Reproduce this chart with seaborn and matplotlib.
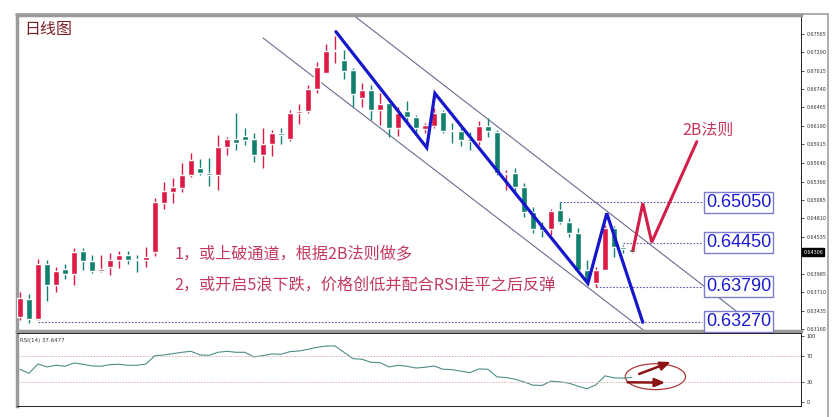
import numpy as np
import pandas as pd
import matplotlib
matplotlib.use("Agg")
import matplotlib.pyplot as plt
import seaborn as sns
from matplotlib.patches import Ellipse
from matplotlib.lines import Line2D

# daily candles
opens = [0.63340, 0.63608, 0.63310, 0.64130, 0.63817, 0.64056, 0.63981, 0.64324, 0.64175, 0.64026,
         0.64085, 0.64190, 0.64264, 0.64205, 0.64190, 0.64309, 0.65040, 0.65204, 0.65263, 0.65457,
         0.65561, 0.65487, 0.65457, 0.65874, 0.65994, 0.66039, 0.65994, 0.65755, 0.65919, 0.66083,
         0.65994, 0.66382, 0.66411, 0.66739, 0.66978, 0.67306, 0.67172, 0.67023, 0.66605, 0.66724,
         0.66426, 0.66531, 0.66158, 0.66411, 0.66322, 0.66143, 0.66188, 0.66396, 0.66128, 0.66113,
         0.65994, 0.65964, 0.66188, 0.66098, 0.65472, 0.65487, 0.65278, 0.64905, 0.64697, 0.64652,
         0.64935, 0.64756, 0.64592, 0.64041, 0.63847, 0.64041, 0.64667, 0.64384, 0.64354]
highs = [0.63713, 0.63683, 0.64205, 0.64190, 0.64085, 0.64130, 0.64369, 0.64369, 0.64264, 0.64264,
         0.64294, 0.64324, 0.64324, 0.64264, 0.64384, 0.65114, 0.65353, 0.65412, 0.65636, 0.65785,
         0.65696, 0.65710, 0.66053, 0.66024, 0.66382, 0.66158, 0.66083, 0.66158, 0.66128, 0.66158,
         0.66426, 0.66516, 0.66799, 0.67142, 0.67410, 0.67530, 0.67321, 0.67052, 0.66829, 0.66799,
         0.66680, 0.66575, 0.66471, 0.66560, 0.66352, 0.66232, 0.66456, 0.66426, 0.66232, 0.66173,
         0.66098, 0.66262, 0.66307, 0.66128, 0.65532, 0.65561, 0.65338, 0.64980, 0.64756, 0.64950,
         0.65050, 0.64816, 0.64667, 0.64190, 0.64085, 0.64712, 0.64697, 0.64413, 0.64384]
lows = [0.63295, 0.63250, 0.63295, 0.63578, 0.63713, 0.63906, 0.63817, 0.64041, 0.63996, 0.64011,
        0.63966, 0.64070, 0.64130, 0.64011, 0.64085, 0.64249, 0.64950, 0.65040, 0.65204, 0.65427,
        0.65457, 0.65293, 0.65233, 0.65755, 0.65830, 0.65904, 0.65651, 0.65561, 0.65740, 0.65919,
        0.65964, 0.66218, 0.66382, 0.66680, 0.66978, 0.67127, 0.66888, 0.66471, 0.66471, 0.66277,
        0.66203, 0.66024, 0.66039, 0.66232, 0.66083, 0.66083, 0.66158, 0.66083, 0.65934, 0.65889,
        0.65830, 0.65904, 0.66024, 0.65457, 0.65233, 0.65204, 0.64831, 0.64592, 0.64533, 0.64562,
        0.64726, 0.64533, 0.64011, 0.63847, 0.63790, 0.64041, 0.64234, 0.64294, 0.64294]
closes = [0.63623, 0.63310, 0.64130, 0.63817, 0.64026, 0.63981, 0.64309, 0.64175, 0.64026, 0.64056,
          0.64190, 0.64264, 0.64190, 0.64190, 0.64234, 0.65055, 0.65219, 0.65278, 0.65457, 0.65681,
          0.65487, 0.65457, 0.65874, 0.65994, 0.65934, 0.65979, 0.65755, 0.65919, 0.66083, 0.66053,
          0.66382, 0.66411, 0.66739, 0.67067, 0.67306, 0.67321, 0.67008, 0.66665, 0.66724, 0.66426,
          0.66516, 0.66158, 0.66382, 0.66322, 0.66158, 0.66203, 0.66382, 0.66113, 0.66113, 0.65979,
          0.65964, 0.66188, 0.66113, 0.65487, 0.65487, 0.65278, 0.64905, 0.64652, 0.64637, 0.64920,
          0.64756, 0.64592, 0.64041, 0.63877, 0.64041, 0.64667, 0.64384, 0.64354, 0.64306]

rsi = [49.7, 43.7, 57.8, 53.3, 55.8, 54.3, 59.3, 57.3, 54.8, 54.3,
       56.8, 57.3, 55.8, 55.8, 57.8, 70.4, 71.4, 73.4, 75.4, 76.9,
       71.4, 70.9, 75.4, 76.9, 75.4, 75.4, 68.4, 70.4, 72.9, 72.4,
       76.4, 77.4, 79.9, 82.9, 84.9, 84.9, 75.4, 65.9, 64.9, 60.3,
       59.8, 53.3, 55.8, 54.3, 51.7, 52.8, 54.8, 49.8, 49.3, 46.9,
       44.8, 50.3, 49.8, 38.3, 37.4, 34.8, 30.8, 25.8, 25.4, 31.8,
       30.8, 28.9, 24.3, 20.3, 26.4, 39.9, 36.9, 36.4, 37.6]

price_ticks = [0.67565, 0.67290, 0.67015, 0.66740, 0.66465, 0.66190, 0.65915, 0.65640,
               0.65360, 0.65085, 0.64810, 0.64535, 0.63985, 0.63710, 0.63435, 0.63160]
last_price = 0.64306

# channel lines (bar index, price)
upper_x = [37.3, 81.3]
upper_y = [0.67813, 0.63250]
lower_x = [27.0, 69.4]
lower_y = [0.67500, 0.63131]

# wave paths
blue_x = [35.1, 45.2, 46.1, 63.1, 65.2, 69.2]
blue_y = [0.67594, 0.65864, 0.66675, 0.63842, 0.64886, 0.63261]
red_x = [68.1, 69.2, 70.2, 75.2]
red_y = [0.64328, 0.65035, 0.64454, 0.65954]

# target levels: value, start bar
levels = [0.65050, 0.64450, 0.63790, 0.63270]
level_start = [60.0, 67.0, 64.0, 2.0]
level_labels = ["0.65050", "0.64450", "0.63790", "0.63270"]

df = pd.DataFrame({"open": opens, "high": highs, "low": lows, "close": closes, "rsi": rsi})
df["idx"] = np.arange(len(df))

RED = "#dc1a44"
TEAL = "#12806f"
CJK = ["Noto Sans CJK SC", "DejaVu Sans"]

sns.set_style("white")
plt.rcParams["font.family"] = CJK

W, H = 838, 417
fig = plt.figure(figsize=(W / 100, H / 100), dpi=100)
ax = fig.add_axes([17 / W, (H - 331) / H, 784 / W, 316 / H])
ax2 = fig.add_axes([17 / W, (H - 406) / H, 784 / W, 73 / H])

up = df["close"] >= df["open"]
colors = np.where(up, RED, TEAL)
ax.vlines(df["idx"], df["low"], df["high"], colors=colors, lw=1.0, zorder=2)
body_lo = np.minimum(df["open"], df["close"])
body_h = np.maximum((df["close"] - df["open"]).abs(), 0.00006)
ax.bar(df["idx"], body_h, bottom=body_lo, width=0.68, color=colors, zorder=3)

# channel
ax.plot(upper_x, upper_y, color="#6b6b90", lw=0.8, zorder=1)
ax.plot(lower_x, lower_y, color="#6b6b90", lw=0.8, zorder=1)

# target levels
for lv, x0, lab in zip(levels, level_start, level_labels):
    ax.plot([x0, 75.8], [lv, lv], color="#5a5aa8", lw=0.8, ls=(0, (1.5, 1.5)), zorder=1)
    ax.text(76.2, lv, lab, fontsize=13, family="Liberation Sans", color="#1a1ad0",
            va="center", ha="left", zorder=6,
            bbox=dict(boxstyle="square,pad=0.12", fc="white", ec="#7c7cd0", lw=1.0))

ax.plot(blue_x, blue_y, color="#1616cc", lw=2.3, zorder=5, solid_joinstyle="miter")
ax.plot(red_x, red_y, color="#d21f4a", lw=2.2, zorder=5, solid_joinstyle="miter")

ax.text(17.2, 0.64279, "1，或上破通道，根据2B法则做多", fontsize=11.6, color="#c23a60",
        va="center", ha="left", family=CJK)
ax.text(17.2, 0.63817, "2，或开启5浪下跌，价格创低并配合RSI走平之后反弹", fontsize=11.6,
        color="#c23a60", va="center", ha="left", family=CJK)
ax.text(76.5, 0.66120, "2B法则", fontsize=11.5, color="#c8375f", va="center", ha="center",
        family=CJK)
ax.text(0.009, 0.955, "日线图", transform=ax.transAxes, fontsize=11.5, color="#7b1f24",
        va="center", ha="left", family=CJK)

ax.set_xlim(-0.333, 86.78)
ax.set_ylim(0.631311, 0.678426)
ax.yaxis.tick_right()
ax.set_yticks(price_ticks)
ax.set_yticklabels([f"{t:.5f}" for t in price_ticks])
ax.tick_params(axis="y", labelsize=4, length=2, width=0.6, pad=2, colors="#333333")
ax.set_xticks([])
ax.text(1.003, last_price, f"{last_price:.5f}", transform=ax.get_yaxis_transform(),
        fontsize=4, color="white", va="center", ha="left",
        bbox=dict(boxstyle="square,pad=0.25", fc="black", ec="black"))

# RSI panel
sns.lineplot(data=df, x="idx", y="rsi", ax=ax2, color="#4d8f88", lw=0.8)
for lv in [70, 30]:
    ax2.axhline(lv, color="#d9b0b0", lw=0.7, ls=(0, (1.5, 1.5)))
ax2.add_patch(Ellipse((70.6, 38.6), 6.7, 39, fill=False, ec="#b03838", lw=0.9))
ax2.annotate("", xy=(72.6, 62.3), xytext=(68.5, 41.2),
             arrowprops=dict(arrowstyle="-|>,head_length=0.6,head_width=0.25",
                             color="#8b1414", lw=1.8))
ax2.annotate("", xy=(72.0, 29.6), xytext=(67.2, 30.2),
             arrowprops=dict(arrowstyle="-|>,head_length=0.6,head_width=0.25",
                             color="#8b1414", lw=1.8))
ax2.text(0.004, 0.93, "RSI(14) 37.6477", transform=ax2.transAxes, fontsize=4,
         color="#333333", va="top", ha="left", family="DejaVu Sans")
ax2.set_xlim(-0.333, 86.78)
ax2.set_ylim(-5.6, 104.5)
ax2.yaxis.tick_right()
ax2.set_yticks([100, 70, 30, 0])
ax2.tick_params(axis="y", labelsize=4, length=2, width=0.6, pad=2, colors="#333333")
ax2.set_xticks(np.arange(4, 69, 4))
ax2.set_xticklabels([])
ax2.tick_params(axis="x", length=3, width=0.6, colors="#333333")
ax2.set_xlabel("")
ax2.set_ylabel("")

for a in (ax, ax2):
    for s in a.spines.values():
        s.set_color("#222222")
        s.set_linewidth(0.7)
    a.spines["left"].set_color("#9a9a9a")
    a.spines["left"].set_linewidth(2.5)
ax.spines["top"].set_color("#9a9a9a")
ax.spines["top"].set_linewidth(2.5)
ax.spines["bottom"].set_color("#9a9a9a")
ax.spines["bottom"].set_linewidth(2.5)

# outer frame: top edge and right edge
fig.add_artist(Line2D([16 / W, 828 / W], [(H - 14) / H, (H - 14) / H],
                      transform=fig.transFigure, color="#a0a0a0", lw=1.2))
fig.add_artist(Line2D([828 / W, 828 / W], [(H - 14) / H, 0], transform=fig.transFigure,
                      color="#a0a0a0", lw=1.2))

fig.savefig("out.png", dpi=100)
